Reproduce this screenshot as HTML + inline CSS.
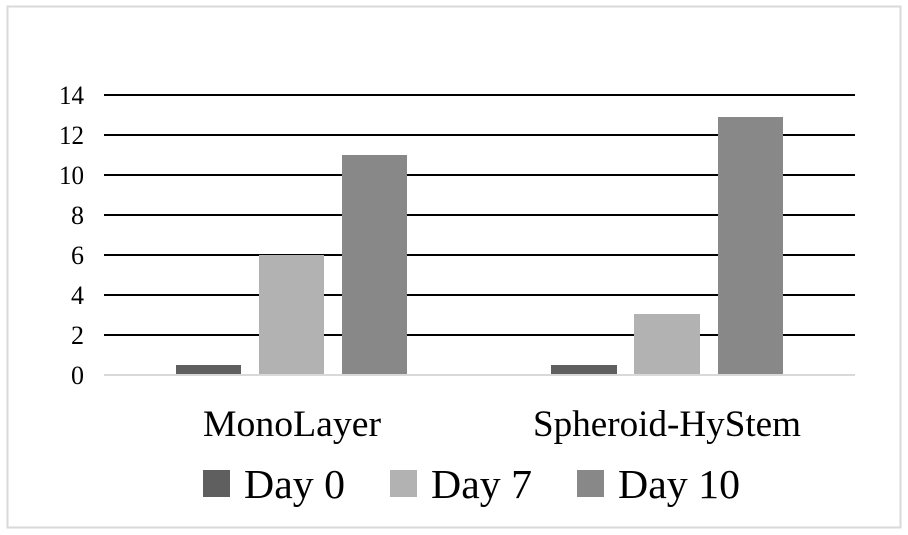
<!DOCTYPE html>
<html><head><style>
body{margin:0;background:#fff;}
svg{display:block;}
text{font-family:"Liberation Serif",serif;fill:#000;}
</style></head><body>
<svg width="908" height="535" viewBox="0 0 908 535">
<rect x="7.5" y="6.5" width="893" height="521" fill="#fff" stroke="#d9d9d9" stroke-width="2"/>
<g stroke="#000" stroke-width="2">
<line x1="104" y1="95" x2="855" y2="95"/>
<line x1="104" y1="135" x2="855" y2="135"/>
<line x1="104" y1="175" x2="855" y2="175"/>
<line x1="104" y1="215" x2="855" y2="215"/>
<line x1="104" y1="255" x2="855" y2="255"/>
<line x1="104" y1="295" x2="855" y2="295"/>
<line x1="104" y1="335" x2="855" y2="335"/>
</g>
<g font-size="26" text-anchor="end">
<text x="84" y="104" textLength="25" lengthAdjust="spacingAndGlyphs">14</text>
<text x="84" y="144" textLength="25" lengthAdjust="spacingAndGlyphs">12</text>
<text x="84" y="184" textLength="25" lengthAdjust="spacingAndGlyphs">10</text>
<text x="84" y="224">8</text>
<text x="84" y="264">6</text>
<text x="84" y="304">4</text>
<text x="84" y="344">2</text>
<text x="84" y="384">0</text>
</g>
<rect x="176" y="365" width="65" height="10" fill="#5f5f5f"/>
<rect x="259" y="255" width="65" height="120" fill="#b2b2b2"/>
<rect x="342" y="155" width="65" height="220" fill="#888888"/>
<rect x="551" y="365" width="66" height="10" fill="#5f5f5f"/>
<rect x="634" y="314" width="66" height="61" fill="#b2b2b2"/>
<rect x="718" y="117" width="65" height="258" fill="#888888"/>
<line x1="104" y1="375" x2="855" y2="375" stroke="#d9d9d9" stroke-width="2"/>
<g font-size="37">
<text x="203" y="436" textLength="178" lengthAdjust="spacingAndGlyphs">MonoLayer</text>
<text x="533" y="436" textLength="268" lengthAdjust="spacingAndGlyphs">Spheroid-HyStem</text>
</g>
<g font-size="41">
<rect x="203" y="470" width="27" height="27" fill="#5f5f5f"/>
<text x="244" y="498" textLength="101" lengthAdjust="spacingAndGlyphs">Day 0</text>
<rect x="390" y="470" width="27" height="27" fill="#b2b2b2"/>
<text x="431" y="498" textLength="101" lengthAdjust="spacingAndGlyphs">Day 7</text>
<rect x="577" y="470" width="27" height="27" fill="#888888"/>
<text x="618" y="498" textLength="122" lengthAdjust="spacingAndGlyphs">Day 10</text>
</g>
</svg>
</body></html>
